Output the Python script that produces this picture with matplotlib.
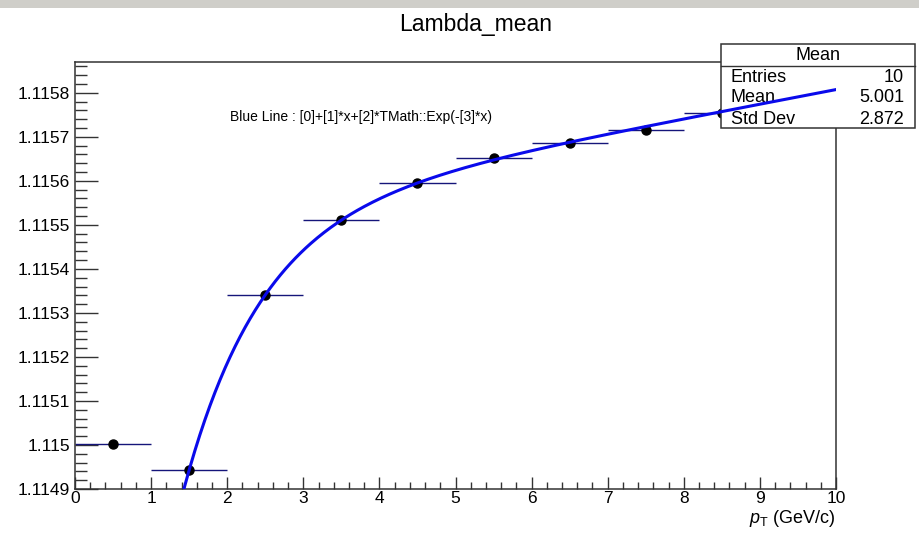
import numpy as np
import matplotlib
matplotlib.use("Agg")
import matplotlib.pyplot as plt
from matplotlib.patches import Rectangle
from matplotlib.ticker import MultipleLocator, FuncFormatter

plt.rcParams['font.family'] = ['Liberation Sans', 'DejaVu Sans']
plt.rcParams['mathtext.fontset'] = 'custom'
plt.rcParams['mathtext.rm'] = 'Liberation Sans'
plt.rcParams['mathtext.it'] = 'Liberation Sans:italic'

# datos del histograma (centros de bin y media de masa)
pt_centros = [0.5, 1.5, 2.5, 3.5, 4.5, 5.5, 6.5, 7.5, 8.5, 9.5]
pt_ancho = [0.5] * 10
masa_media = [1.115002, 1.114943, 1.115341, 1.115511, 1.115595,
              1.115652, 1.115686, 1.115716, 1.115755, 1.115785]

# parametros del ajuste [0]+[1]*x+[2]*exp(-[3]*x)
par0 = 1.1154775
par1 = 3.3e-5
par2 = -0.00254
par3 = 0.98

# caja de estadisticas
stats_titulo = "Mean"
stats_nombres = ["Entries", "Mean", "Std Dev"]
stats_valores = ["10", "5.001", "2.872"]

fig = plt.figure(figsize=(9.2, 5.39), dpi=100, facecolor='white')
# franja gris de arriba (captura de pantalla)
fig.patches.append(Rectangle((0, 1 - 8 / 539), 1, 8 / 539, transform=fig.transFigure,
                             facecolor='#cfcec9', edgecolor='none'))

ax = fig.add_axes([75 / 920, 1 - 489 / 539, (836 - 75) / 920, (489 - 62) / 539])

ax.errorbar(pt_centros, masa_media, xerr=pt_ancho, fmt='o', color='black',
            ecolor='#15157a', elinewidth=1.0, markersize=6.5, capsize=0, zorder=2)

x = np.linspace(1.2, 10, 400)
y = par0 + par1 * x + par2 * np.exp(-par3 * x)
ax.plot(x, y, color='#0a0aeb', linewidth=2.2, zorder=5)

ax.set_xlim(0, 10)
ax.set_ylim(1.1149, 1.11587)

ax.xaxis.set_major_locator(MultipleLocator(1))
ax.xaxis.set_minor_locator(MultipleLocator(0.2))
ax.yaxis.set_major_locator(MultipleLocator(0.0001))
ax.yaxis.set_minor_locator(MultipleLocator(0.00002))
ax.yaxis.set_major_formatter(FuncFormatter(lambda v, p: f"{v:.4f}".rstrip('0')))

ax.tick_params(axis='both', which='both', direction='in', color='#333333',
               width=1.0, labelsize=12.5, top=False, right=False)
ax.tick_params(axis='y', which='major', length=16.5, pad=3.5)
ax.tick_params(axis='y', which='minor', length=8.5)
ax.tick_params(axis='x', which='major', length=9, pad=1.5)
ax.tick_params(axis='x', which='minor', length=4.8)
for s in ax.spines.values():
    s.set_color('#333333')
    s.set_linewidth(1.1)

ax.set_xlabel(r"$p_{\mathrm{T}}$ (GeV/c)", fontsize=13, loc='right', labelpad=1.5)

fig.text(476 / 920, 1 - 24 / 539, "Lambda_mean", fontsize=16.5, ha='center', va='center')

ax.text(0.2037, 0.871, "Blue Line : [0]+[1]*x+[2]*TMath::Exp(-[3]*x)",
        transform=ax.transAxes, fontsize=10, ha='left', va='center')

# caja de estadisticas encima de los puntos pero debajo de la curva
def px(xp):
    return (xp - 75) / 761

def py(yp):
    return (489 - yp) / 427

ax.add_patch(Rectangle((px(721), py(128)), px(915) - px(721), py(44) - py(128),
                       transform=ax.transAxes, facecolor='white', edgecolor='#333333',
                       linewidth=1.1, clip_on=False, zorder=3))
ax.plot([px(721), px(915)], [py(66), py(66)], transform=ax.transAxes,
        color='#333333', linewidth=1.0, clip_on=False, zorder=3.1)
ax.text(px(818), py(55), stats_titulo, transform=ax.transAxes, fontsize=13,
        ha='center', va='center', zorder=4)
for i, (n, v) in enumerate(zip(stats_nombres, stats_valores)):
    yy = py(77 + 21 * i)
    ax.text(px(731), yy, n, transform=ax.transAxes, fontsize=13, ha='left',
            va='center', zorder=4)
    ax.text(px(904), yy, v, transform=ax.transAxes, fontsize=13, ha='right',
            va='center', zorder=4)

fig.savefig("out.png", dpi=100, facecolor='white')
